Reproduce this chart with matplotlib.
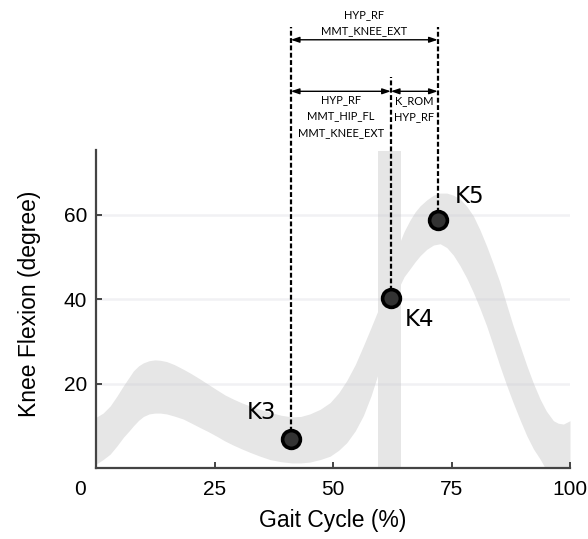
import matplotlib
matplotlib.use("Agg")
import matplotlib.pyplot as plt
from matplotlib.transforms import ScaledTranslation

# ---- data ----
band_x = [0, 1.5, 3, 4.4, 5.8, 7, 7.9, 9, 10, 11.2, 12.4, 13.6, 14.9, 16.5, 18.4, 20,
          21.9, 23.7, 25.5, 27.2, 29, 30.8, 32.5, 34.6, 36.7, 39, 41.3, 43.2, 45.1,
          47.3, 49.4, 51.2, 52.9, 54.7, 56.4, 58, 59.6, 62, 64.1, 65, 66.2, 67.3,
          68.4, 69.8, 71.2, 72.6, 74, 75.4, 76.8, 78.2, 79.6, 81, 82.4, 83.8, 85.2,
          86.6, 88, 89.5, 90.9, 92.3, 93.7, 95, 96.5, 97.5, 98.6, 100]
band_upper = [12.0, 13.0, 14.7, 17.0, 19.5, 21.5, 23.0, 24.2, 24.9, 25.4, 25.6, 25.5,
              25.2, 24.5, 23.4, 22.4, 21.1, 19.8, 18.5, 17.3, 16.3, 15.4, 14.7, 13.9,
              13.2, 12.5, 12.1, 12.2, 12.8, 13.9, 15.5, 17.8, 20.7, 24.5, 28.9, 33.2,
              37.6, 46.0, 53.5, 56.0, 58.6, 60.6, 62.1, 63.5, 64.6, 65.1, 65.1, 64.6,
              63.7, 62.0, 59.7, 56.4, 52.6, 48.4, 44.0, 38.8, 33.7, 28.8, 24.2, 20.0,
              16.3, 13.5, 11.2, 10.6, 10.4, 11.2]
band_lower = [0.9, 2.0, 3.3, 5.2, 7.3, 8.8, 10.0, 11.3, 12.2, 12.8, 13.0, 13.0, 12.8,
              12.3, 11.6, 10.7, 9.6, 8.6, 7.5, 6.4, 5.4, 4.5, 3.7, 2.8, 2.0, 1.5, 1.2,
              1.2, 1.4, 2.0, 2.8, 4.2, 6.0, 8.8, 12.4, 17.0, 22.6, 33.0, 43.2, 45.3,
              47.1, 48.8, 50.3, 51.8, 52.8, 53.1, 52.2, 50.4, 47.9, 45.0, 41.6, 37.8,
              33.7, 29.0, 24.2, 19.7, 15.5, 11.3, 7.6, 4.5, 2.1, -0.5, -3.0, -4.2,
              -5.0, -4.0]
swing_band = [59.5, 64.3]          # shaded vertical region (% gait cycle)

key_names = ["K3", "K4", "K5"]
key_x = [41.1, 62.2, 72.1]
key_y = [6.9, 40.2, 58.7]

x_ticks = [0, 25, 50, 75, 100]
y_ticks = [20, 40, 60]

top_label = "HYP_RF\nMMT_KNEE_EXT"
mid_labels = ["HYP_RF\nMMT_HIP_FL\nMMT_KNEE_EXT", "K_ROM\nHYP_RF"]

# ---- figure ----
fig = plt.figure(figsize=(5.88, 5.39), dpi=100)
ax = fig.add_axes([96/588, 1 - 468/539, 474/588, 318/539])
ax.set_xlim(0, 100)
ax.set_ylim(0, 75.3)

band_col = "#e6e6e6"
ax.fill_between(band_x, band_lower, band_upper, color=band_col, lw=0, zorder=1)
ax.fill_between(swing_band, [0, 0], [75, 75], color=band_col, lw=0, zorder=1)

for yv in y_ticks:
    ax.axhline(yv, color="#c8c8d4", alpha=0.25, lw=1.8, zorder=1.5)

# dashed leaders
top_y = 104.4
mid_y = 92.5
dash = (0, (2.2, 1.1))
for xv, yv, yt in zip(key_x, key_y, [top_y, mid_y, top_y]):
    ax.plot([xv, xv], [yv, yt], color="black", lw=1.6, ls=dash, clip_on=False, zorder=3)

ax.plot(key_x, key_y, "o", ms=12.8, mfc="#333333", mec="black", mew=2.6,
        zorder=4, clip_on=False, ls="none")

offs = [(-6.2, 6.3), (6.0, -5.1), (6.8, 5.7)]
for name, xv, yv, (dx, dy) in zip(key_names, key_x, key_y, offs):
    ax.text(xv + dx, yv + dy, name, fontsize=16.5, ha="center", va="center",
            family="DejaVu Sans", zorder=5)

# arrows
arr = dict(arrowstyle="<|-|>,head_length=0.5,head_width=0.17", color="black",
           lw=1.0, shrinkA=0, shrinkB=0)
ax.annotate("", xy=(key_x[0], 101.4), xytext=(key_x[2], 101.4), arrowprops=arr,
            annotation_clip=False)
ax.annotate("", xy=(key_x[0], 89.2), xytext=(key_x[1], 89.2), arrowprops=arr,
            annotation_clip=False)
ax.annotate("", xy=(key_x[1], 89.2), xytext=(key_x[2], 89.2), arrowprops=arr,
            annotation_clip=False)

small = dict(fontsize=8.0, family="Lato", ha="center", va="center",
             linespacing=1.6, clip_on=False)
ax.text((key_x[0] + key_x[2]) / 2, 105.4, top_label, **small)
ax.text((key_x[0] + key_x[1]) / 2, 83.4, mid_labels[0], **small)
ax.text((key_x[1] + key_x[2]) / 2, 85.15, mid_labels[1], **small)

# axes styling
for s in ["top", "right"]:
    ax.spines[s].set_visible(False)
for s in ["left", "bottom"]:
    ax.spines[s].set_color("#444444")
    ax.spines[s].set_linewidth(1.6)

ax.set_xticks(x_ticks)
ax.set_yticks(y_ticks)
ax.tick_params(axis="both", direction="in", length=4, width=1.4, color="#444444",
               labelsize=15)
ax.tick_params(axis="x", pad=8.5)
ax.tick_params(axis="y", pad=6.5)
for lab in ax.get_xticklabels() + ax.get_yticklabels():
    lab.set_family("Liberation Sans")
lab0 = ax.get_xticklabels()[0]
lab0.set_transform(lab0.get_transform() + ScaledTranslation(-0.16, 0, fig.dpi_scale_trans))

ax.set_xlabel("Gait Cycle (%)", fontsize=16.5, family="Liberation Sans")
ax.set_ylabel("Knee Flexion (degree)", fontsize=16.5, family="Liberation Sans")
ax.xaxis.set_label_coords(0.5, -0.13)
ax.yaxis.set_label_coords(-0.115, 0.515)

fig.savefig("out.png", dpi=100)
